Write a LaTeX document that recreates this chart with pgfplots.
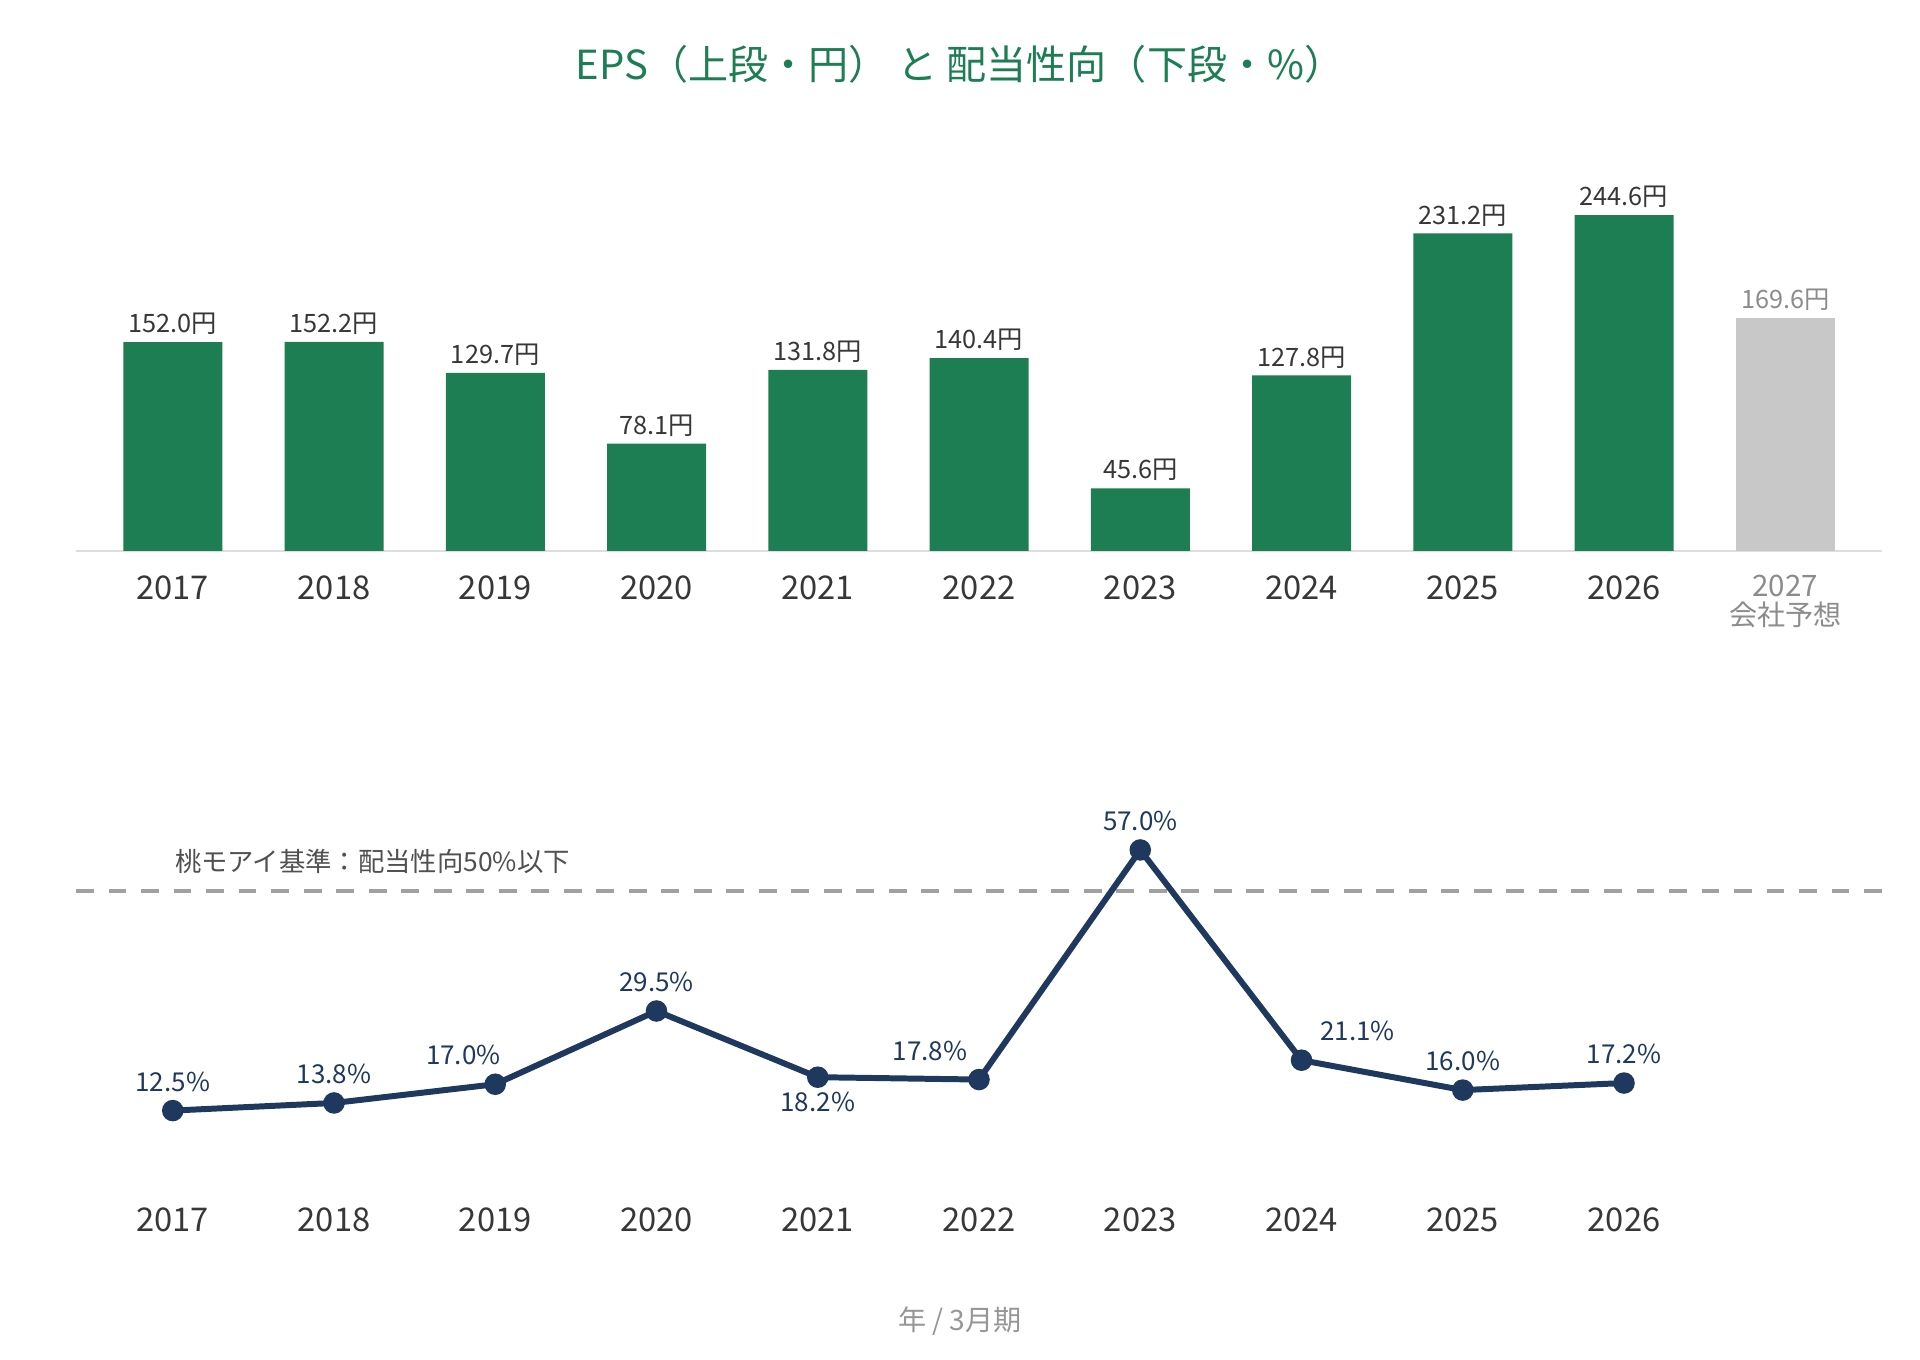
\documentclass[border=0pt]{standalone}
\usepackage{pgfplots}
\pgfplotsset{compat=1.18}
\usepackage{fontspec}
\setmainfont{Noto Sans CJK JP}
\definecolor{barGreen}{RGB}{29,125,83}
\definecolor{fcGray}{RGB}{200,200,200}
\definecolor{navy}{RGB}{31,56,94}
\definecolor{refGray}{RGB}{160,160,160}
\definecolor{txtDark}{RGB}{55,55,55}
\definecolor{txtGray}{RGB}{140,140,140}
\definecolor{refText}{RGB}{80,80,80}
\definecolor{footGray}{RGB}{150,150,150}
\begin{document}
\begin{tikzpicture}
\useasboundingbox (0,0) rectangle (19.2,13.6);
\node[text=barGreen, font=\fontsize{11.4}{13}\selectfont] at (9.60,12.96) {EPS（上段・円） と 配当性向（下段・\%）};
\begin{axis}[
  at={(0.76cm,8.09cm)}, anchor=south west,
  scale only axis, width=18.06cm, height=4.01cm,
  xmin=-0.6, xmax=10.6, ymin=0, ymax=292,
  axis x line=bottom, axis y line=none,
  x axis line style={draw=black!13, line width=0.6pt, -},
  xtick={0,...,10}, major tick length=0pt,
  xticklabels={2017,2018,2019,2020,2021,2022,2023,2024,2025,2026,{\textcolor{txtGray}{\fontsize{8.4}{9}\selectfont 2027}}},
  xticklabel style={font=\fontsize{9.3}{10.5}\selectfont, text=txtDark, anchor=north, yshift=-0.12cm},
  clip=false,
  point meta=explicit symbolic,
  nodes near coords={\pgfplotspointmeta 円},
  every node near coord/.append style={font=\fontsize{7.2}{8}\selectfont, text=txtDark, yshift=-0.05cm},
]
\addplot[ybar, bar width=0.99cm, bar shift=0pt, fill=barGreen, draw=none] coordinates {
  (0,152.0) [152.0]
  (1,152.2) [152.2]
  (2,129.7) [129.7]
  (3,78.1) [78.1]
  (4,131.8) [131.8]
  (5,140.4) [140.4]
  (6,45.6) [45.6]
  (7,127.8) [127.8]
  (8,231.2) [231.2]
  (9,244.6) [244.6]
};
\addplot[ybar, bar width=0.99cm, bar shift=0pt, fill=fcGray, draw=none, every node near coord/.append style={text=txtGray}] coordinates {
  (10,169.6) [169.6]
};
\node[text=txtGray, font=\fontsize{8}{9}\selectfont, yshift=-0.635cm] at (axis cs:10,0) {会社予想};
\end{axis}
\begin{axis}[
  at={(0.76cm,1.762cm)}, anchor=south west,
  scale only axis, width=18.06cm, height=4.10cm,
  xmin=-0.6, xmax=10.6, ymin=0, ymax=70,
  axis x line=bottom, axis y line=none,
  x axis line style={draw=none},
  xtick={0,...,9}, major tick length=0pt,
  xticklabels={2017,2018,2019,2020,2021,2022,2023,2024,2025,2026},
  xticklabel style={font=\fontsize{9.3}{10.5}\selectfont, text=txtDark, anchor=north, yshift=-0.12cm},
  clip=false,
]
\addplot[refGray, line width=1.2pt, dash pattern=on 5.1pt off 4.15pt] coordinates {(-0.6,50) (10.6,50)};
\node[anchor=west, inner sep=0pt, text=refText, font=\fontsize{7.5}{8}\selectfont] at (axis cs:0.01,55.1) {桃モアイ基準：配当性向50\%以下};
\addplot[navy, line width=1.7pt, mark=*, mark size=2.2pt, mark options={fill=navy, solid}] coordinates {
  (0,12.5) (1,13.8) (2,17.0) (3,29.5) (4,18.2) (5,17.8) (6,57.0) (7,21.1) (8,16.0) (9,17.2)
};
\tikzset{lbl/.style={text=navy, font=\fontsize{7.4}{8}\selectfont, inner sep=0pt}}
\node[lbl, yshift=0.29cm] at (axis cs:0,12.5) {12.5\%};
\node[lbl, yshift=0.29cm] at (axis cs:1,13.8) {13.8\%};
\node[lbl, yshift=0.29cm, xshift=-0.32cm] at (axis cs:2,17.0) {17.0\%};
\node[lbl, yshift=0.29cm] at (axis cs:3,29.5) {29.5\%};
\node[lbl, yshift=-0.25cm] at (axis cs:4,18.2) {18.2\%};
\node[lbl, yshift=0.29cm, xshift=-0.49cm] at (axis cs:5,17.8) {17.8\%};
\node[lbl, yshift=0.29cm] at (axis cs:6,57.0) {57.0\%};
\node[lbl, yshift=0.29cm, xshift=0.56cm] at (axis cs:7,21.1) {21.1\%};
\node[lbl, yshift=0.29cm] at (axis cs:8,16.0) {16.0\%};
\node[lbl, yshift=0.29cm] at (axis cs:9,17.2) {17.2\%};
\end{axis}
\node[text=footGray, font=\fontsize{8}{9}\selectfont] at (9.60,0.39) {年 / 3月期};
\end{tikzpicture}
\end{document}
